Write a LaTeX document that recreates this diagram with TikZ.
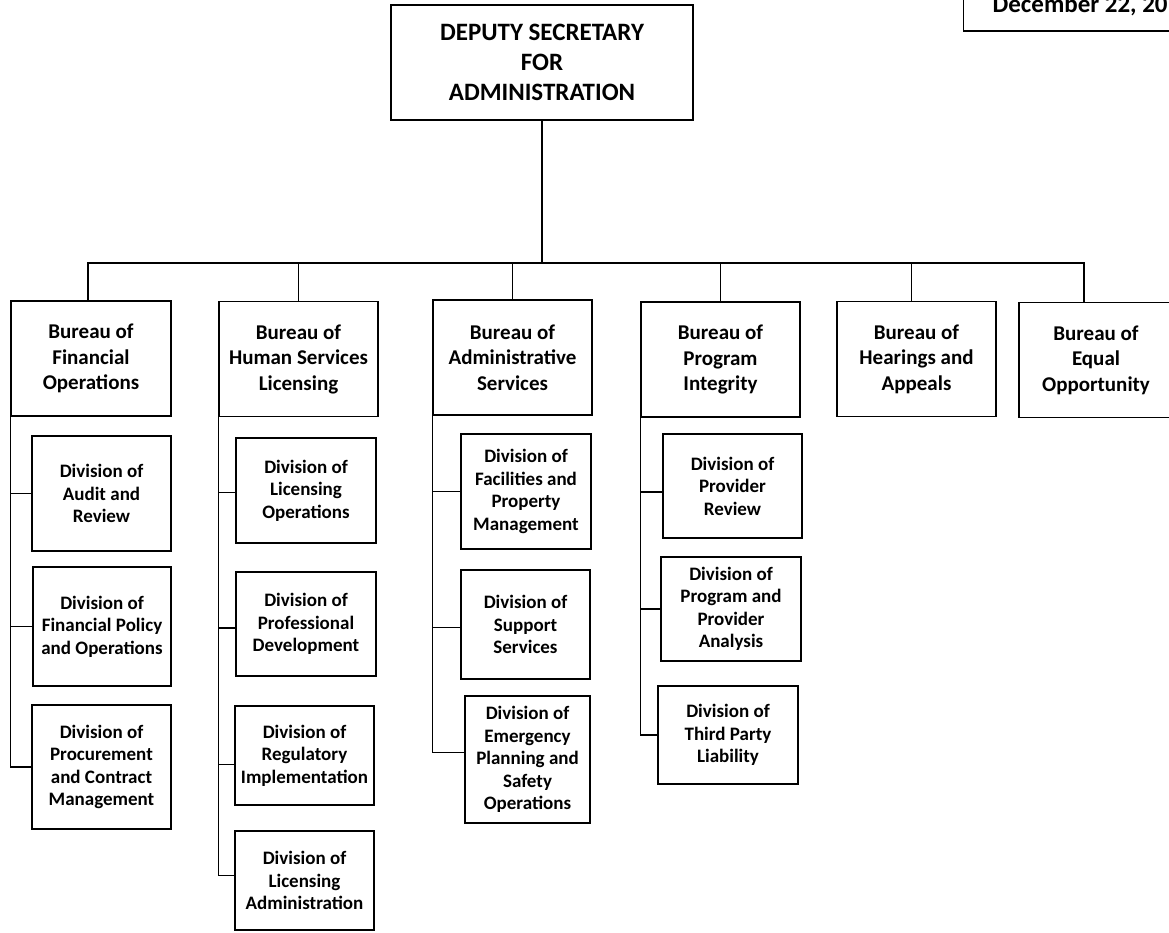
\documentclass[tikz,border=0pt]{standalone}
\usepackage{fontspec}
\setmainfont{Carlito}

\begin{document}
\begin{tikzpicture}[x=1pt,y=-1pt,line width=1.3pt,
		font=\bfseries,
		chief node/.style={rectangle,draw,align=center,inner sep=0pt,
			font=\fontsize{25}{30}\selectfont\bfseries},
		bureau node/.style={rectangle,draw,align=center,inner sep=0pt,
			minimum height=115pt,font=\fontsize{21}{25.5}\selectfont\bfseries},
		division node/.style={rectangle,draw,align=center,inner sep=0pt,
			font=\fontsize{19}{22.5}\selectfont\bfseries},
		elbow/.style={to path={|- (\tikztotarget)}},
		bus/.style={to path={-| (\tikztotarget)}}]

		\useasboundingbox (0,0) rectangle (1169,932);
		\clip (0,0) rectangle (1169,932);

		% date box, cut by the page edge
		\node[draw,anchor=base west,inner xsep=29pt,inner ysep=19pt,text depth=0pt,
			font=\fontsize{25}{30}\selectfont\bfseries] (date) at (963,12) {December 22, 20};

		\node[chief node, minimum width=302pt, minimum height=115pt] (dep) at (542,62.5)
			{DEPUTY SECRETARY\\FOR\\ADMINISTRATION};
		\coordinate (junction) at (542,263);

		% bureaus
		\node[bureau node, minimum width=160pt] (b1) at (91,358.5) {Bureau of\\Financial\\Operations};
		\node[bureau node, minimum width=159pt] (b2) at (298.5,359) {Bureau of\\Human Services\\Licensing};
		\node[bureau node, minimum width=159pt] (b3) at (512.5,357.5) {Bureau of\\Administrative\\Services};
		\node[bureau node, minimum width=159pt] (b4) at (720.5,359.5) {Bureau of\\Program\\Integrity};
		\node[bureau node, minimum width=159pt] (b5) at (916.5,359) {Bureau of\\Hearings and\\Appeals};
		\node[bureau node, minimum width=154pt] (b6) at (1096,360) {Bureau of\\Equal\\Opportunity};

		% divisions
		\node[division node, minimum width=139pt, minimum height=115pt] (d11) at (101.5,493.5) {Division of\\Audit and\\Review};
		\node[division node, minimum width=138pt, minimum height=119pt] (d12) at (102,626.5) {Division of\\Financial Policy\\and Operations};
		\node[division node, minimum width=139pt, minimum height=124pt] (d13) at (101.5,767) {Division of\\Procurement\\and Contract\\Management};

		\node[division node, minimum width=140pt, minimum height=105pt] (d21) at (306,490.5) {Division of\\Licensing\\Operations};
		\node[division node, minimum width=140pt, minimum height=104pt] (d22) at (306,624) {Division of\\Professional\\Development};
		\node[division node, minimum width=139pt, minimum height=99pt] (d23) at (304.5,755.5) {Division of\\Regulatory\\Implementation};
		\node[division node, minimum width=139pt, minimum height=99pt] (d24) at (304.5,880.5) {Division of\\Licensing\\Administration};

		\node[division node, minimum width=130pt, minimum height=115pt] (d31) at (526,491.5) {Division of\\Facilities and\\Property\\Management};
		\node[division node, minimum width=129pt, minimum height=109pt] (d32) at (525.5,624.5) {Division of\\Support\\Services};
		\node[division node, minimum width=125pt, minimum height=127pt] (d33) at (527.5,759.5) {Division of\\Emergency\\Planning and\\Safety\\Operations};

		\node[division node, minimum width=139pt, minimum height=104pt] (d41) at (732.5,486) {Division of\\Provider\\Review};
		\node[division node, minimum width=140pt, minimum height=104pt] (d42) at (731,609) {Division of\\Program and\\Provider\\Analysis};
		\node[division node, minimum width=140pt, minimum height=98pt] (d43) at (728,735) {Division of\\Third Party\\Liability};

		\path
		(dep) edge (junction)
		(junction) edge[bus] ([xshift=-3pt]b1.north)
		(junction) edge[bus] (b2.north)
		(junction) edge[bus] (b3.north)
		(junction) edge[bus] (b4.north)
		(junction) edge[bus] ([xshift=-5pt]b5.north)
		(junction) edge[bus] ([xshift=-12pt]b6.north)
		(b1.south west) edge[elbow] (d11.west)
		(b1.south west) edge[elbow] (d12.west)
		(b1.south west) edge[elbow] (d13.west)
		(b2.south west) edge[elbow] ([yshift=-2pt]d21.west)
		(b2.south west) edge[elbow] ([yshift=-4pt]d22.west)
		(b2.south west) edge[elbow] ([yshift=-9pt]d23.west)
		(b2.south west) edge[elbow] ([yshift=5pt]d24.west)
		(b3.south west) edge[elbow] (d31.west)
		(b3.south west) edge[elbow] ([yshift=-3pt]d32.west)
		(b3.south west) edge[elbow] ([yshift=7pt]d33.west)
		(b4.south west) edge[elbow] ([yshift=-6pt]d41.west)
		(b4.south west) edge[elbow] (d42.west)
		(b4.south west) edge[elbow] (d43.west);
\end{tikzpicture}
\end{document}
